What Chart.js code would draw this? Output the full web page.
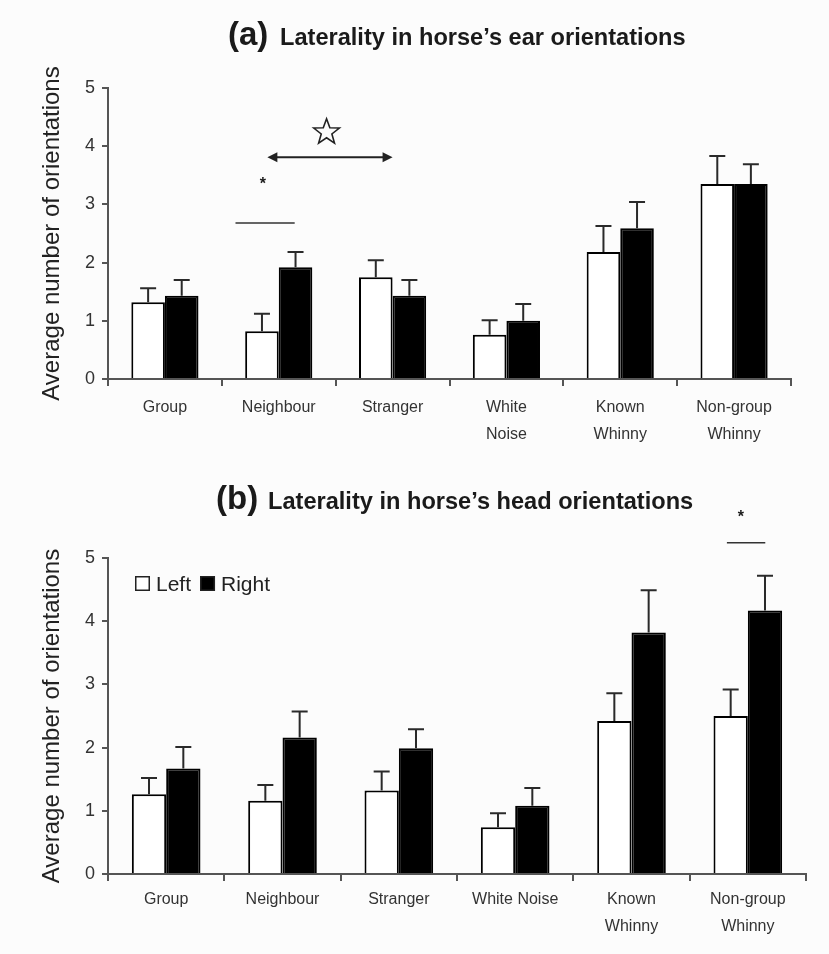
<!DOCTYPE html>
<html>
<head>
<meta charset="utf-8">
<script src="https://cdn.jsdelivr.net/npm/chart.js@4.4.0/dist/chart.umd.min.js"></script>
<style>
  html, body { margin: 0; padding: 0; background: #fcfcfc; }
  #page { position: relative; width: 829px; height: 954px; }
  canvas { position: absolute; left: 0; }
  #ear { top: 0; }
  #head { top: 470px; }
</style>
</head>
<body>
<div id="page">
  <canvas id="ear" width="829" height="470"></canvas>
  <canvas id="head" width="829" height="484"></canvas>
</div>
<script>
// (a) ear orientations
const earCategories = ['Group', 'Neighbour', 'Stranger', ['White', 'Noise'], ['Known', 'Whinny'], ['Non-group', 'Whinny']];
const earLeft = [1.32, 0.82, 1.75, 0.76, 2.18, 3.35];
const earLeftErr = [0.24, 0.30, 0.29, 0.25, 0.45, 0.48];
const earRight = [1.43, 1.92, 1.43, 1.00, 2.59, 3.35];
const earRightErr = [0.27, 0.26, 0.27, 0.29, 0.45, 0.34];

// (b) head orientations
const headCategories = ['Group', 'Neighbour', 'Stranger', 'White Noise', ['Known', 'Whinny'], ['Non-group', 'Whinny']];
const headLeft = [1.26, 1.16, 1.32, 0.74, 2.42, 2.50];
const headLeftErr = [0.26, 0.25, 0.30, 0.22, 0.44, 0.42];
const headRight = [1.67, 2.16, 1.99, 1.08, 3.82, 4.17];
const headRightErr = [0.34, 0.41, 0.30, 0.28, 0.67, 0.55];

const yTicks = [0, 1, 2, 3, 4, 5];
const seriesNames = ['Left', 'Right'];

const FONT = "'Liberation Sans', Arial, sans-serif";
const axisColor = '#555';
const inkColor = '#1a1a1a';
Chart.defaults.font.family = FONT;

// upward-only SEM whiskers with a cap
const errorBars = {
  id: 'errorBars',
  afterDatasetsDraw(chart) {
    const ctx = chart.ctx;
    const y = chart.scales.y;
    ctx.save();
    ctx.strokeStyle = '#2a2a2a';
    ctx.lineWidth = 2;
    chart.data.datasets.forEach((ds, i) => {
      chart.getDatasetMeta(i).data.forEach((bar, j) => {
        const top = y.getPixelForValue(ds.data[j] + ds.errors[j]);
        ctx.beginPath();
        ctx.moveTo(bar.x, bar.y);
        ctx.lineTo(bar.x, top);
        ctx.moveTo(bar.x - 8, top);
        ctx.lineTo(bar.x + 8, top);
        ctx.stroke();
      });
    });
    ctx.restore();
  }
};

function drawTitle(ctx, tag, text, tagX, textX, base) {
  ctx.save();
  ctx.fillStyle = inkColor;
  ctx.textAlign = 'left';
  ctx.textBaseline = 'alphabetic';
  ctx.font = 'bold 33px ' + FONT;
  ctx.fillText(tag, tagX, base);
  ctx.font = 'bold 23.6px ' + FONT;
  ctx.fillText(text, textX, base);
  ctx.restore();
}

function sigLine(chart, from, to, value) {
  const ctx = chart.ctx, x = chart.scales.x, y = chart.scales.y;
  const py = y.getPixelForValue(value);
  ctx.save();
  ctx.strokeStyle = '#333';
  ctx.lineWidth = 1.5;
  ctx.beginPath();
  ctx.moveTo(x.getPixelForValue(from), py);
  ctx.lineTo(x.getPixelForValue(to), py);
  ctx.stroke();
  ctx.restore();
}

function asterisk(chart, at, value) {
  const ctx = chart.ctx;
  ctx.save();
  ctx.fillStyle = inkColor;
  ctx.font = 'bold 16px ' + FONT;
  ctx.textAlign = 'center';
  ctx.textBaseline = 'middle';
  ctx.fillText('*', chart.scales.x.getPixelForValue(at), chart.scales.y.getPixelForValue(value) + 3);
  ctx.restore();
}

function panel(id, labels, left, leftErr, right, rightErr, padRight, padBottom, labelPad, extra) {
  return new Chart(document.getElementById(id), {
    type: 'bar',
    data: {
      labels: labels,
      datasets: [
        { label: seriesNames[0], data: left, errors: leftErr, backgroundColor: '#ffffff', borderColor: '#000', borderWidth: 2 },
        { label: seriesNames[1], data: right, errors: rightErr, backgroundColor: '#000000', borderColor: '#000', borderWidth: 2 }
      ]
    },
    options: {
      responsive: false,
      animation: false,
      layout: { padding: { top: 88, right: padRight, bottom: padBottom, left: 0 } },
      datasets: { bar: { categoryPercentage: 0.59, barPercentage: 1 } },
      plugins: { legend: { display: false }, tooltip: { enabled: false } },
      scales: {
        x: {
          grid: { drawOnChartArea: false, tickLength: 7, color: axisColor, lineWidth: 2 },
          border: { color: axisColor, width: 2 },
          ticks: { color: '#333', font: { size: 16, lineHeight: 1.7 }, padding: labelPad, maxRotation: 0, autoSkip: false },
          afterFit: s => { s.height = 70; }
        },
        y: {
          min: 0,
          max: 5,
          afterBuildTicks: s => { s.ticks = yTicks.map(v => ({ value: v })); },
          grid: { drawOnChartArea: false, tickLength: 6, color: axisColor, lineWidth: 2 },
          border: { color: axisColor, width: 2 },
          ticks: { color: '#333', font: { size: 18 }, padding: 7 },
          title: {
            display: true,
            text: 'Average number of orientations',
            color: '#222',
            font: { size: 24 },
            padding: { top: 38, bottom: 0 }
          },
          afterFit: s => { s.width = 108; }
        }
      }
    },
    plugins: [errorBars, { id: 'extra', afterDraw: extra }]
  });
}

document.addEventListener('DOMContentLoaded', () => {
  panel('ear', earCategories, earLeft, earLeftErr, earRight, earRightErr, 38, 21, 8, chart => {
    const ctx = chart.ctx, x = chart.scales.x, y = chart.scales.y;
    drawTitle(ctx, '(a)', 'Laterality in horse\u2019s ear orientations', 228, 280, 45);

    // Neighbour left vs right
    sigLine(chart, 0.62, 1.14, 2.68);
    asterisk(chart, 0.86, 3.40);

    // Neighbour vs Stranger double arrow
    const ay = y.getPixelForValue(3.81);
    const ax1 = x.getPixelForValue(0.9), ax2 = x.getPixelForValue(2.0);
    ctx.save();
    ctx.strokeStyle = '#222';
    ctx.fillStyle = '#222';
    ctx.lineWidth = 2;
    ctx.beginPath();
    ctx.moveTo(ax1 + 6, ay);
    ctx.lineTo(ax2 - 6, ay);
    ctx.stroke();
    ctx.beginPath();
    ctx.moveTo(ax1, ay); ctx.lineTo(ax1 + 10, ay - 5); ctx.lineTo(ax1 + 10, ay + 5); ctx.closePath();
    ctx.moveTo(ax2, ay); ctx.lineTo(ax2 - 10, ay - 5); ctx.lineTo(ax2 - 10, ay + 5); ctx.closePath();
    ctx.fill();

    // open star
    const sx = x.getPixelForValue(1.42), sy = y.getPixelForValue(4.24);
    ctx.beginPath();
    for (let k = 0; k < 10; k++) {
      const r = k % 2 === 0 ? 13.5 : 5.6;
      const a = -Math.PI / 2 + k * Math.PI / 5;
      const px = sx + r * Math.cos(a), py = sy + r * Math.sin(a);
      if (k === 0) ctx.moveTo(px, py); else ctx.lineTo(px, py);
    }
    ctx.closePath();
    ctx.lineWidth = 1.6;
    ctx.strokeStyle = '#222';
    ctx.stroke();
    ctx.restore();
  });

  panel('head', headCategories, headLeft, headLeftErr, headRight, headRightErr, 23, 10, 5, chart => {
    const ctx = chart.ctx;
    drawTitle(ctx, '(b)', 'Laterality in horse\u2019s head orientations', 216, 268, 39);

    // legend inside plot area
    ctx.save();
    ctx.font = '21px ' + FONT;
    ctx.textBaseline = 'alphabetic';
    let lx = 135;
    const boxTop = 106, base = 121;
    chart.data.datasets.forEach(ds => {
      ctx.fillStyle = ds.backgroundColor;
      ctx.fillRect(lx, boxTop, 15, 15);
      ctx.strokeStyle = '#222';
      ctx.lineWidth = 1.5;
      ctx.strokeRect(lx + 0.75, boxTop + 0.75, 13.5, 13.5);
      ctx.fillStyle = '#222';
      ctx.fillText(ds.label, lx + 21, base);
      lx += 21 + ctx.measureText(ds.label).width + 9;
    });
    ctx.restore();

    // Non-group Whinny left vs right
    sigLine(chart, 4.82, 5.15, 5.24);
    asterisk(chart, 4.94, 5.69);
  });
});
</script>
</body>
</html>
